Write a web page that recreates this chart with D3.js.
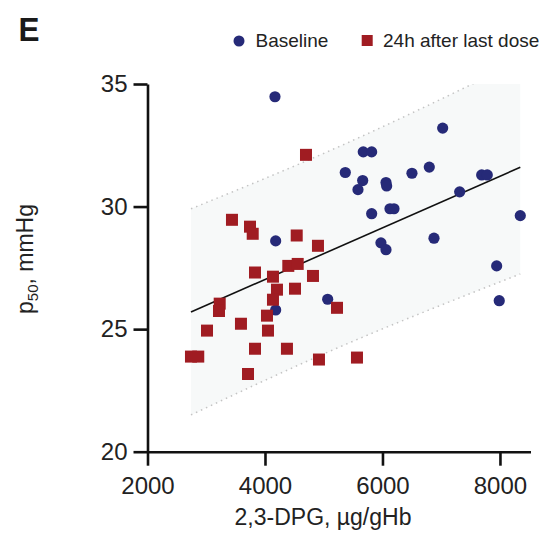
<!DOCTYPE html>
<html>
<head>
<meta charset="utf-8">
<script src="https://cdn.jsdelivr.net/npm/d3@7"></script>
<style>
  body { margin: 0; background: #fff; }
  svg { font-family: "Liberation Sans", Arial, sans-serif; }
</style>
</head>
<body>
<div id="chart"></div>
<script>
// Baseline (circles)
const baseDpg = [4170, 4182, 7025, 5673, 5816, 5367, 5663, 5583, 6060, 6071, 6502, 6797, 7689,
  7784, 7314, 5816, 6128, 6196, 8346, 6877, 5974, 6060, 7944, 4182, 5067, 7988];
const baseP50 = [34.48, 28.60, 33.20, 32.23, 32.23, 31.39, 31.06, 30.69, 30.98, 30.84, 31.36, 31.61, 31.29,
  31.29, 30.60, 29.71, 29.91, 29.91, 29.63, 28.71, 28.52, 28.24, 27.58, 25.78, 26.22, 26.16];

// 24h after last dose (squares)
const doseDpg = [4698, 3438, 3745, 3791, 4540, 4902, 4397, 4557, 3830, 4136, 4817, 4204, 4511, 4136,
  3229, 3217, 4034, 3591, 3013, 4051, 2740, 2864, 3830, 4374, 4919, 3711, 5226, 5566];
const doseP50 = [32.11, 29.46, 29.18, 28.89, 28.82, 28.40, 27.58, 27.66, 27.31, 27.14, 27.17, 26.61, 26.65, 26.20,
  26.04, 25.74, 25.55, 25.22, 24.94, 24.94, 23.88, 23.88, 24.20, 24.20, 23.76, 23.17, 25.87, 23.84];

// regression line and prediction band
const fitX = [2740, 8346];
const fitY = [25.70, 31.60];
const bandX = [2740, 5000, 8346];
const bandLower = [21.50, 23.99, 27.25];
const bandUpper = [29.91, 32.17, 35.95];

const xTicks = [2000, 4000, 6000, 8000];
const yTicks = [20, 25, 30, 35];
const legendLabels = ["Baseline", "24h after last dose"];

const blue = "#262a78";
const red = "#a01c22";

const width = 544, height = 535;
const svg = d3.select("#chart").append("svg")
  .attr("width", width)
  .attr("height", height);

const x = d3.scaleLinear().domain([2000, 8520]).range([147.5, 530.5]);
const y = d3.scaleLinear().domain([20, 35]).range([451.7, 84]);

// clip for band so it stops at the top of the axis
svg.append("clipPath").attr("id", "plot-clip")
  .append("rect")
  .attr("x", x(2000)).attr("y", y(35))
  .attr("width", x(8520) - x(2000)).attr("height", y(20) - y(35));

const band = bandX.map((v, i) => ({ x: v, lo: bandLower[i], hi: bandUpper[i] }));

const plot = svg.append("g").attr("clip-path", "url(#plot-clip)");

plot.append("path")
  .datum(band)
  .attr("fill", "#f7f9f9")
  .attr("d", d3.area().curve(d3.curveMonotoneX)
    .x((d) => x(d.x)).y0((d) => y(d.lo)).y1((d) => y(d.hi)));

["lo", "hi"].forEach((k) => {
  plot.append("path")
    .datum(band)
    .attr("fill", "none")
    .attr("stroke", "#c4c4c4")
    .attr("stroke-width", 1.5)
    .attr("stroke-dasharray", "1.5,4")
    .attr("d", d3.line().curve(d3.curveMonotoneX).x((d) => x(d.x)).y((d) => y(d[k])));
});

svg.append("path")
  .datum(fitX.map((v, i) => [v, fitY[i]]))
  .attr("fill", "none")
  .attr("stroke", "#111")
  .attr("stroke-width", 1.6)
  .attr("d", d3.line().x((d) => x(d[0])).y((d) => y(d[1])));

// points
svg.append("g").selectAll("circle")
  .data(baseDpg.map((v, i) => [v, baseP50[i]]))
  .join("circle")
  .attr("cx", (d) => x(d[0]))
  .attr("cy", (d) => y(d[1]))
  .attr("r", 5.6)
  .attr("fill", blue);

const sq = 12;
svg.append("g").selectAll("rect")
  .data(doseDpg.map((v, i) => [v, doseP50[i]]))
  .join("rect")
  .attr("x", (d) => x(d[0]) - sq / 2)
  .attr("y", (d) => y(d[1]) - sq / 2)
  .attr("width", sq)
  .attr("height", sq)
  .attr("fill", red);

// axes
const xAxis = svg.append("g")
  .attr("transform", `translate(0,${y(20)})`)
  .call(d3.axisBottom(x).tickValues(xTicks).tickFormat(d3.format("d"))
    .tickSize(14).tickSizeOuter(0).tickPadding(11));

const yAxis = svg.append("g")
  .attr("transform", `translate(${x(2000)},0)`)
  .call(d3.axisLeft(y).tickValues(yTicks).tickSize(14).tickSizeOuter(0).tickPadding(6));

[xAxis, yAxis].forEach((g) => {
  g.selectAll("path, line").attr("stroke", "#111").attr("stroke-width", 2.6);
  g.selectAll("text").attr("fill", "#222").style("font-size", "24px");
  g.attr("font-family", null);
});

svg.append("text")
  .attr("x", 323).attr("y", 525)
  .attr("text-anchor", "middle")
  .attr("fill", "#222")
  .style("font-size", "23px")
  .text("2,3-DPG, µg/gHb");

const yt = svg.append("text")
  .attr("transform", "translate(33,259) rotate(-90)")
  .attr("text-anchor", "middle")
  .attr("fill", "#222")
  .style("font-size", "23px");
yt.append("tspan").text("p");
yt.append("tspan").attr("dy", 5).style("font-size", "15px").text("50");
yt.append("tspan").attr("dy", -5).text(", mmHg");

// panel letter
svg.append("text")
  .attr("x", 18.5).attr("y", 40.7)
  .attr("fill", "#1a1a1a")
  .style("font-size", "34px")
  .style("font-weight", "bold")
  .attr("textLength", 21)
  .attr("lengthAdjust", "spacingAndGlyphs")
  .text("E");

// legend
const legend = svg.append("g");
legend.append("circle").attr("cx", 239).attr("cy", 41).attr("r", 5.5).attr("fill", blue);
legend.append("text").attr("x", 255.5).attr("y", 47).attr("fill", "#222")
  .style("font-size", "19px").text(legendLabels[0]);
legend.append("rect").attr("x", 361.7).attr("y", 35).attr("width", 11).attr("height", 11).attr("fill", red);
legend.append("text").attr("x", 383).attr("y", 47).attr("fill", "#222")
  .style("font-size", "19px").text(legendLabels[1]);
</script>
</body>
</html>
